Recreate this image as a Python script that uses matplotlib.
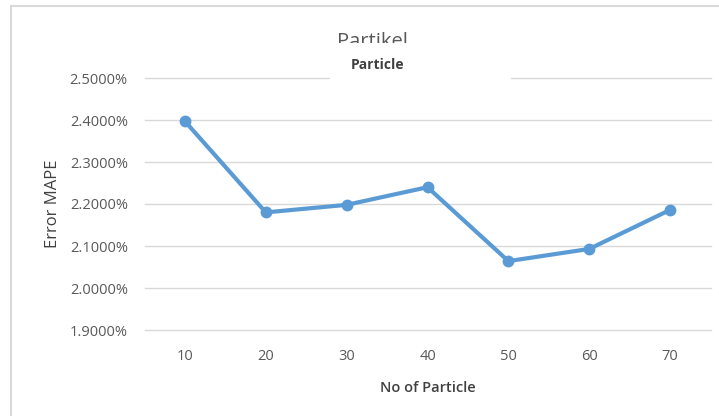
import matplotlib
matplotlib.use("Agg")
import matplotlib.pyplot as plt
from matplotlib.patches import Rectangle
from matplotlib.lines import Line2D

# data
particles = ["10", "20", "30", "40", "50", "60", "70"]
mape = [2.397, 2.180, 2.198, 2.240, 2.064, 2.093, 2.186]  # percent
y_ticks = [1.9, 2.0, 2.1, 2.2, 2.3, 2.4, 2.5]

plt.rcParams["font.family"] = ["Open Sans", "DejaVu Sans"]

W, H = 719, 416
fig = plt.figure(figsize=(W / 100, H / 100), dpi=100)
ax = fig.add_axes([144.5 / W, 1 - 330 / H, (710.5 - 144.5) / W, (330 - 78) / H])

x = list(range(len(particles)))
ax.plot(x, mape, color="#5B9BD5", linewidth=3, marker="o", markersize=7.5,
        solid_capstyle="round", zorder=3)

ax.set_xlim(-0.5, len(particles) - 0.5)
ax.set_ylim(y_ticks[0], y_ticks[-1])
ax.set_yticks(y_ticks)
ax.set_yticklabels([f"{v:.4f}%" for v in y_ticks])
ax.set_xticks(x)
ax.set_xticklabels(particles)
ax.tick_params(length=0, labelsize=10.5, colors="#595959")
ax.tick_params(axis="y", pad=12)
ax.tick_params(axis="x", pad=14)
ax.grid(axis="y", color="#D9D9D9", linewidth=1.0)
for gl in ax.get_ygridlines():
    gl.set_clip_on(False)
for s in ax.spines.values():
    s.set_visible(False)

ax.set_xlabel("No of Particle", fontsize=10.5, fontweight="semibold", color="#404040", labelpad=12)
ax.set_ylabel("Error MAPE", fontsize=12, color="#404040", labelpad=6)

# chart border (left and top visible)
fig.add_artist(Line2D([11 / W, 11 / W], [0, 1 - 5.5 / H], color="#D9D9D9", linewidth=1.5))
fig.add_artist(Line2D([11 / W, 1], [1 - 5.5 / H, 1 - 5.5 / H], color="#D9D9D9", linewidth=1.5))

# title, partly hidden by the inner title box
fig.text(372 / W, 1 - 47 / H, "Partikel", ha="center", va="baseline", fontsize=14.5,
         color="#595959", zorder=1)
fig.add_artist(Rectangle((330 / W, 1 - 86 / H), (511 - 330) / W, (86 - 43) / H,
                         transform=fig.transFigure, facecolor="white", edgecolor="none",
                         zorder=5))
fig.text(378 / W, 1 - 65 / H, "Particle", ha="center", va="center", fontsize=10,
         fontweight="bold", color="#404040", zorder=6)

fig.savefig("out.png", dpi=100)
